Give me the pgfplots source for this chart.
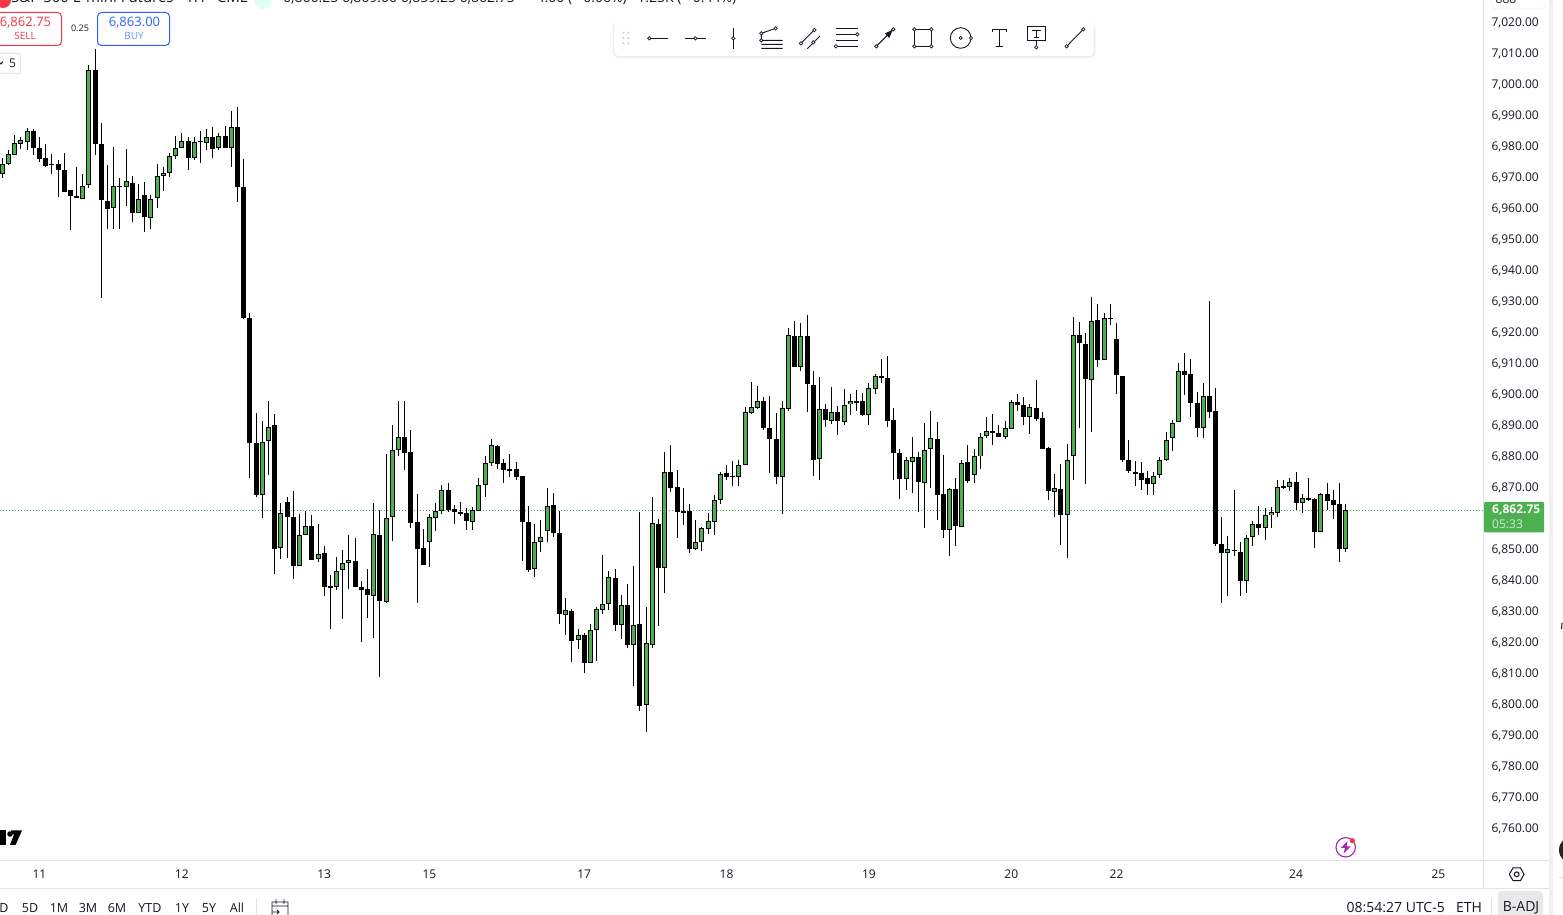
\documentclass[border=0pt]{standalone}
\usepackage{pgfplots}
\usepackage{pgfplotstable}
\usepackage{fontspec}
\setmainfont{Open Sans}
\pgfplotsset{compat=1.18}
\usetikzlibrary{shadows}
\definecolor{tvgreen}{HTML}{4CAF50}
\definecolor{tvtext}{HTML}{131722}
\definecolor{tvline}{HTML}{E0E3EB}
\definecolor{tvred}{HTML}{F23645}
\definecolor{tvblue}{HTML}{2962FF}
\newcommand{\sz}[1]{\fontsize{#1}{#1}\selectfont}
\pgfplotstableread{
i o h l c
0 6971.2 6976.2 6969.9 6974.6
1 6974.5 6978.9 6974.0 6977.8
2 6977.4 6983.7 6977.3 6981.3
3 6980.9 6983.2 6979.2 6982.0
4 6981.7 6986.0 6978.9 6985.2
5 6985.0 6985.5 6977.3 6979.6
6 6979.5 6983.1 6975.1 6976.1
7 6976.2 6980.8 6973.5 6973.8
8 6974.2 6977.6 6971.1 6974.2
9 6974.4 6975.6 6963.8 6972.5
10 6972.4 6977.9 6965.4 6965.4
11 6966.0 6966.0 6953.1 6964.1
12 6964.2 6973.4 6963.5 6963.5
13 6963.3 6971.2 6963.3 6967.5
14 6967.5 7006.3 6966.7 7004.6
15 7004.7 7011.5 6977.4 6980.9
16 6981.0 6987.6 6931.2 6962.9
17 6962.6 6974.0 6953.5 6960.0
18 6960.1 6979.8 6953.5 6967.2
19 6967.2 6969.8 6953.5 6967.2
20 6966.8 6979.2 6960.8 6968.8
21 6968.4 6970.5 6955.6 6958.8
22 6958.7 6968.0 6958.4 6963.0
23 6964.2 6968.5 6952.5 6957.4
24 6957.1 6964.2 6953.5 6963.3
25 6963.5 6974.5 6960.2 6970.7
26 6970.7 6973.4 6965.8 6971.7
27 6971.7 6977.8 6970.3 6977.2
28 6977.2 6983.4 6976.1 6979.7
29 6979.7 6984.4 6979.7 6982.0
30 6982.0 6983.1 6972.5 6976.4
31 6976.4 6983.1 6975.8 6981.7
32 6981.7 6985.0 6974.8 6981.7
33 6981.2 6985.8 6979.0 6983.3
34 6983.3 6986.3 6976.4 6979.3
35 6979.4 6984.2 6979.0 6983.3
36 6983.3 6986.6 6979.6 6979.6
37 6979.7 6991.5 6973.5 6986.5
38 6986.5 6992.7 6962.2 6967.0
39 6966.8 6976.0 6924.4 6924.8
40 6924.9 6926.3 6873.2 6884.6
41 6884.6 6894.0 6867.0 6867.7
42 6867.7 6891.5 6860.3 6884.9
43 6885.2 6897.9 6874.0 6889.7
44 6890.2 6893.7 6842.2 6850.3
45 6850.6 6865.0 6847.0 6861.7
46 6865.5 6866.9 6847.4 6860.6
47 6860.5 6868.9 6840.6 6844.8
48 6844.8 6861.5 6844.8 6854.6
49 6854.6 6862.5 6854.6 6857.5
50 6857.8 6861.1 6846.7 6846.7
51 6847.0 6858.2 6846.0 6848.8
52 6849.1 6851.1 6835.1 6838.0
53 6838.1 6841.8 6824.5 6838.1
54 6838.0 6847.6 6837.0 6843.3
55 6843.5 6849.8 6827.7 6845.9
56 6845.8 6854.7 6837.3 6846.8
57 6846.5 6853.7 6838.0 6838.0
58 6838.1 6839.8 6820.3 6837.0
59 6837.2 6843.7 6828.0 6835.4
60 6835.1 6865.0 6821.6 6854.9
61 6854.6 6862.7 6809.0 6833.5
62 6833.2 6880.8 6832.9 6860.1
63 6860.4 6890.2 6852.9 6882.3
64 6882.2 6897.9 6880.0 6886.2
65 6886.2 6897.9 6875.8 6881.2
66 6881.7 6888.6 6857.0 6858.7
67 6858.8 6867.9 6832.9 6850.0
68 6850.5 6856.6 6845.1 6845.1
69 6852.5 6861.5 6844.5 6860.4
70 6860.3 6865.0 6856.1 6862.6
71 6862.6 6870.8 6861.6 6869.1
72 6869.1 6871.5 6862.2 6862.9
73 6863.0 6864.4 6858.3 6862.0
74 6862.0 6865.3 6860.9 6862.0
75 6861.7 6863.3 6856.4 6859.0
76 6858.8 6863.6 6856.4 6862.6
77 6862.6 6873.0 6862.6 6870.7
78 6871.0 6880.2 6866.9 6878.1
79 6878.1 6885.6 6877.0 6883.6
80 6883.3 6883.7 6876.0 6877.7
81 6878.1 6879.1 6871.6 6875.8
82 6875.9 6880.8 6873.5 6875.9
83 6875.9 6878.2 6872.4 6873.5
84 6873.6 6873.6 6846.3 6859.0
85 6859.1 6864.0 6842.8 6843.5
86 6843.9 6858.2 6841.2 6852.6
87 6852.6 6859.5 6849.2 6854.2
88 6855.9 6869.8 6852.4 6864.2
89 6864.6 6868.2 6854.0 6855.4
90 6855.5 6862.5 6826.0 6829.3
91 6829.0 6834.4 6822.4 6830.4
92 6830.4 6830.7 6813.7 6820.6
93 6820.7 6824.4 6817.9 6822.6
94 6822.6 6823.1 6810.2 6813.5
95 6813.6 6826.0 6813.5 6824.2
96 6824.2 6831.5 6814.0 6830.7
97 6830.7 6848.2 6829.2 6832.6
98 6832.6 6843.1 6830.5 6841.3
99 6841.0 6843.7 6823.7 6825.8
100 6825.9 6835.3 6821.1 6832.3
101 6832.3 6838.9 6818.2 6819.3
102 6819.4 6844.7 6806.0 6825.9
103 6825.9 6862.1 6797.9 6799.6
104 6799.7 6831.5 6791.1 6819.7
105 6819.4 6866.9 6818.3 6858.8
106 6858.4 6859.8 6825.3 6844.1
107 6844.1 6881.5 6836.0 6875.2
108 6875.2 6883.7 6868.7 6869.9
109 6870.1 6875.6 6853.7 6862.3
110 6862.3 6869.8 6857.9 6862.3
111 6862.5 6864.7 6849.0 6850.3
112 6850.3 6859.5 6849.8 6852.6
113 6852.3 6857.2 6849.5 6856.8
114 6856.8 6861.7 6855.0 6859.1
115 6859.0 6867.5 6854.7 6866.2
116 6866.2 6875.0 6864.7 6874.6
117 6874.6 6877.3 6872.4 6873.5
118 6873.9 6878.6 6870.5 6873.5
119 6873.5 6878.9 6870.5 6877.2
120 6877.2 6896.0 6877.2 6894.3
121 6894.1 6904.0 6893.7 6895.9
122 6895.8 6902.7 6895.3 6898.1
123 6898.1 6899.1 6888.6 6889.3
124 6889.4 6899.5 6874.7 6885.8
125 6885.9 6894.0 6871.1 6873.5
126 6873.5 6897.9 6861.6 6895.5
127 6895.4 6921.5 6894.7 6919.4
128 6919.1 6923.7 6909.0 6909.0
129 6909.1 6923.1 6907.6 6919.1
130 6919.1 6925.6 6894.4 6903.5
131 6903.3 6907.6 6873.7 6879.0
132 6879.4 6905.6 6872.4 6895.5
133 6895.5 6896.9 6889.5 6891.9
134 6891.7 6902.4 6890.5 6894.6
135 6894.6 6896.2 6886.9 6891.6
136 6891.3 6901.8 6890.2 6896.8
137 6896.8 6900.2 6893.4 6897.8
138 6897.8 6901.5 6894.7 6897.8
139 6897.8 6900.5 6893.1 6893.5
140 6893.5 6903.7 6890.3 6902.0
141 6902.0 6906.6 6900.2 6906.2
142 6906.2 6911.5 6903.8 6905.4
143 6905.5 6912.4 6889.6 6891.6
144 6891.7 6895.6 6872.4 6881.2
145 6881.3 6882.4 6866.3 6872.9
146 6872.9 6879.8 6869.2 6878.8
147 6878.3 6886.3 6868.2 6879.7
148 6879.7 6881.5 6862.1 6871.9
149 6871.6 6890.8 6856.9 6882.3
150 6882.6 6894.7 6869.8 6885.9
151 6885.9 6891.1 6859.5 6867.7
152 6867.8 6880.5 6853.7 6856.3
153 6856.4 6869.7 6847.9 6869.7
154 6869.7 6873.1 6851.1 6857.6
155 6857.5 6878.9 6857.5 6878.1
156 6878.1 6883.7 6871.5 6872.2
157 6874.1 6882.4 6871.5 6880.1
158 6880.1 6887.6 6876.0 6886.5
159 6886.7 6892.7 6886.0 6888.4
160 6888.4 6893.7 6883.7 6887.7
161 6887.8 6890.2 6886.4 6886.4
162 6886.4 6891.5 6885.6 6889.1
163 6889.0 6898.2 6889.0 6897.5
164 6897.6 6900.2 6894.7 6896.7
165 6896.8 6899.2 6890.2 6892.9
166 6892.9 6896.8 6887.3 6895.9
167 6895.5 6904.7 6891.5 6892.1
168 6892.6 6894.4 6882.5 6882.5
169 6883.0 6883.0 6866.0 6869.0
170 6868.7 6874.4 6860.5 6869.7
171 6869.7 6877.6 6851.5 6861.2
172 6861.3 6884.0 6847.3 6878.8
173 6880.1 6925.0 6872.4 6919.1
174 6919.1 6923.4 6889.3 6916.7
175 6916.5 6919.8 6871.1 6905.1
176 6904.8 6931.5 6887.9 6923.9
177 6924.2 6929.2 6908.9 6911.2
178 6911.2 6926.3 6911.2 6924.6
179 6924.6 6929.2 6922.4 6924.6
180 6917.8 6923.1 6900.2 6906.1
181 6905.9 6905.9 6878.3 6878.9
182 6879.1 6885.3 6874.7 6875.4
183 6875.2 6878.5 6870.5 6874.5
184 6874.6 6878.2 6869.2 6872.5
185 6873.0 6875.3 6867.6 6871.2
186 6871.2 6875.0 6867.6 6873.9
187 6874.1 6879.8 6873.1 6879.1
188 6879.0 6887.9 6878.7 6885.5
189 6885.9 6891.8 6881.8 6891.0
190 6891.2 6910.2 6891.2 6907.5
191 6907.8 6913.4 6899.8 6906.4
192 6906.8 6911.5 6892.7 6897.4
193 6897.2 6900.8 6886.3 6889.3
194 6889.3 6903.7 6886.0 6899.7
195 6899.7 6930.2 6892.4 6894.5
196 6894.6 6902.1 6851.1 6851.8
197 6851.7 6860.5 6832.7 6849.0
198 6849.0 6854.4 6835.0 6850.1
199 6849.7 6869.2 6847.9 6849.7
200 6849.4 6852.4 6835.0 6839.9
201 6839.9 6854.7 6836.0 6853.9
202 6854.1 6859.2 6851.1 6858.1
203 6858.2 6864.0 6854.7 6856.9
204 6857.0 6863.4 6853.1 6861.3
205 6861.3 6863.8 6856.9 6862.0
206 6862.0 6872.4 6860.5 6870.4
207 6870.3 6872.4 6869.5 6870.3
208 6870.3 6873.0 6869.0 6872.0
209 6872.0 6875.0 6862.7 6865.1
210 6865.1 6867.9 6861.9 6866.8
211 6866.4 6873.1 6865.8 6866.4
212 6866.2 6866.5 6850.5 6855.8
213 6855.8 6868.1 6855.8 6868.1
214 6868.1 6871.5 6862.7 6865.8
215 6866.2 6869.2 6859.8 6864.5
216 6864.6 6871.5 6846.0 6850.0
217 6850.3 6864.7 6849.2 6862.75
}\ohlc
\begin{document}
\begin{tikzpicture}[x=1pt,y=1pt]
\clip (0,0) rectangle (1563,915);
\fill[white] (0,0) rectangle (1563,915);
\begin{axis}[
  at={(0pt,55pt)}, anchor=south west, scale only axis,
  width=1483pt, height=860pt,
  xmin=-0.376, xmax=239.2, ymin=6749.84, ymax=7027.26,
  axis line style={draw=none}, major tick length=0pt,
  ytick={6760,6770,...,7020}, yticklabel pos=right,
  xtick={6,29,52,69,94,117,140,163,180,209,232},
  xticklabels={11,12,13,15,17,18,19,20,22,24,25},
  scaled y ticks=false,
  /pgf/number format/.cd, fixed, fixed zerofill, precision=2, 1000 sep={,}, assume math mode=true,
  /pgfplots/.cd,
  yticklabel style={anchor=west, xshift=5pt, yshift=0pt, font=\sz{12}, text=tvtext},
  xticklabel style={anchor=center, yshift=-14pt, font=\sz{12}, text=tvtext},
]
\addplot[forget plot, color=tvgreen, line width=0.8pt, dash pattern=on 1pt off 2pt] coordinates {(-0.376,6862.75)(239.2,6862.75)};
% wicks
\addplot[forget plot, draw=none, no markers, error bars/.cd, y dir=minus, y explicit, error mark=none, error bar style={line width=1pt, draw=black}]
  table[x=i, y=h, y error minus expr={\thisrow{h}-\thisrow{l}}] {\ohlc};
% bodies: outline
\addplot[forget plot, draw=none, no markers, error bars/.cd, y dir=both, y explicit, error mark=none, error bar style={line width=5pt, draw=black}]
  table[x=i, y expr={(\thisrow{o}+\thisrow{c})/2},
        y error plus expr={max(abs(\thisrow{o}-\thisrow{c})/2,0.2)},
        y error minus expr={max(abs(\thisrow{o}-\thisrow{c})/2,0.2)}] {\ohlc};
% bodies: green fill of the rising candles
\addplot[forget plot, draw=none, no markers, error bars/.cd, y dir=both, y explicit, error mark=none, error bar style={line width=3pt, draw=tvgreen}]
  table[x=i, y expr={(\thisrow{o}+\thisrow{c})/2},
        y error plus expr={\thisrow{c}>\thisrow{o} ? max(abs(\thisrow{o}-\thisrow{c})/2-0.32,0) : 0},
        y error minus expr={\thisrow{c}>\thisrow{o} ? max(abs(\thisrow{o}-\thisrow{c})/2-0.32,0) : 0}] {\ohlc};
\end{axis}
% frame lines
\draw[tvline,line width=1pt] (1483.5,27) -- (1483.5,915);
\draw[tvline,line width=1pt] (0,54.5) -- (1549,54.5);
\draw[tvline,line width=1pt] (0,26.5) -- (1549,26.5);
\fill[gray!12] (1549,0) rectangle (1553,915);
% current price label
\fill[tvgreen,rounded corners=1pt] (1484,382.5) rectangle (1544,413);
\node[anchor=west,text=white,font=\bfseries\sz{12},inner sep=0pt] at (1492,405) {6,862.75};
\node[anchor=west,text=white,opacity=.75,font=\sz{12},inner sep=0pt] at (1492,391) {05:33};
% top strip
\fill[tvred] (3,915) circle (8);
\node[anchor=base west,inner sep=0pt,text=tvtext,font=\sz{15}] at (11,912) {S\&P 500 E-mini Futures \textperiodcentered{} 1H \textperiodcentered{} CME};
\fill[green!40!cyan!12] (263,915) circle (9);
\node[anchor=base west,inner sep=0pt,text=tvtext,font=\sz{14}] at (283,912) {6,866.25 6,869.00 6,859.25 6,862.75 \enspace $-$4.00 ($-$0.06\%) \enspace 1.23K ($-$0.44\%)};
\draw[tvline,fill=white,rounded corners=3pt] (1492,920) rectangle (1545,906.5);
\node[inner sep=0pt,text=tvtext,font=\sz{12}] at (1506,916) {888};
% sell / buy
\draw[tvred,line width=1pt,rounded corners=4pt,fill=white] (-6,902.5) rectangle (61.5,869.5);
\node[text=tvred,font=\sz{13},inner sep=0pt] at (25.5,892.5) {6,862.75};
\node[text=tvred,font=\sz{10},inner sep=0pt] at (25,879) {SELL};
\node[text=tvtext,font=\sz{9},inner sep=0pt] at (80,886.5) {0.25};
\draw[tvblue,line width=1pt,rounded corners=4pt,fill=white] (97.5,902.5) rectangle (169.5,869.5);
\node[text=tvblue,font=\sz{13},inner sep=0pt] at (134.5,892.5) {6,863.00};
\node[text=tvblue!70,font=\sz{10},inner sep=0pt] at (134,879) {BUY};
\draw[tvline,line width=1pt,rounded corners=2pt,fill=white] (-6,861.5) rectangle (20.5,841.5);
\node[text=tvtext,font=\sz{12},inner sep=0pt] at (12.5,851.5) {5};
\draw[tvtext,line width=1pt] (-1,853) -- (1,851) -- (3,853.5);
% toolbar
\fill[black!5,rounded corners=7pt] (612.5,894.5) rectangle (1095.5,857);
\fill[black!9,rounded corners=7pt] (613.5,893) rectangle (1094.5,857.5);
\fill[white,rounded corners=6pt] (614,895) rectangle (1094,858.5);
\begin{scope}[shift={(600,905)},x=0.3333pt,y=-0.3333pt,line width=.9pt,draw=tvtext]
 \foreach \a in {70,85} \foreach \b in {68,84,100} \fill[gray!35] (\a,\b) circle (1.2pt);
 \def\pt(#1,#2){\draw[fill=white,line width=.7pt] (#1,#2) circle (1.7pt);}
 \draw (148,85)--(203,85); \pt(148,85)
 \draw (255,85)--(318,85); \pt(286,85)
 \draw (400,55)--(400,116); \pt(400,85)
 \draw (484,70)--(527,55) (484,70)--(484,91) (484,91)--(548,91) (484,103)--(548,103) (484,115)--(548,115);
 \pt(484,70) \pt(527,55) \pt(484,91)
 \draw (603,100)--(643,60) (622,116)--(660,78); \pt(603,100) \pt(643,60) \pt(640,97)
 \draw (708,55)--(773,55) (708,73)--(773,73) (708,91)--(773,91) (708,109)--(773,109); \pt(772,73) \pt(708,109)
 \draw (829,109)--(880,58); \fill[tvtext] (878,60)--(855,70)--(868,84)--cycle; \pt(829,109) \pt(880,58)
 \draw (943,58) rectangle (994,109); \pt(943,58) \pt(994,58) \pt(943,109) \pt(994,109)
 \draw (1082,84) circle (10.3pt); \draw[line width=.7pt] (1082,84) circle (1.6pt); \pt(1113,84)
 \draw (1178,58)--(1220,58) (1199,58)--(1199,108) (1188,108)--(1210,108);
 \draw (1178,58)--(1178,66) (1220,58)--(1220,66);
 \draw (1282,49) rectangle (1337,92) (1296,60)--(1322,60) (1309,60)--(1309,82) (1302,82)--(1316,82) (1309,92)--(1309,106); \pt(1309,112)
 \draw (1400,109)--(1450,58); \pt(1400,109) \pt(1450,58)
\end{scope}
% TradingView logo
\fill[black] (-2,84.5) rectangle (5.5,70);
\fill[black] (10,81) circle (2.8);
\fill[black] (11,84.5) -- (22,84.5) -- (15.5,70) -- (10,70) -- (14,80.5) -- (11,80.5) -- cycle;
% lightning
\draw[color={rgb,255:red,156;green,39;blue,176},line width=1.1pt] (1345.7,67.7) circle (9.7);
\fill[color={rgb,255:red,156;green,39;blue,176}] (1347.5,74) -- (1341,67) -- (1345,67) -- (1343.5,61.5) -- (1350.5,68.5) -- (1346.5,68.5) -- cycle;
\fill[tvred] (1352.3,74.3) circle (2.6);
% settings
\draw[tvtext,line width=1pt] (1509.3,40.7) -- (1513,47) -- (1520.5,47) -- (1524,40.7) -- (1520.5,34.4) -- (1513,34.4) -- cycle;
\draw[tvtext,line width=1pt] (1516.7,40.7) circle (2.4);
% bottom bar
\foreach \t/\x in {D/4,5D/30,1M/59,3M/88,6M/117,YTD/150,1Y/182,5Y/209,All/237}
  \node[text=tvtext,font=\sz{12.5},inner sep=0pt] at (\x,7) {\t};
\draw[tvline,line width=1pt] (256.5,0) -- (256.5,17);
\draw[tvtext,line width=.9pt] (272,0) -- (272,13) -- (288,13) -- (288,0) (272,9) -- (288,9) (276,15.5) -- (276,11) (284,15.5) -- (284,11) (272,3)--(279,3) (277,5)--(279,3)--(277,1);
\node[anchor=east,text=tvtext,font=\sz{14},inner sep=0pt] at (1445,7) {08:54:27 UTC-5};
\node[text=tvtext,font=\sz{14},inner sep=0pt] at (1469,7) {ETH};
\draw[tvline,line width=1pt] (1491.5,0) -- (1491.5,17);
\fill[gray!18,rounded corners=4pt] (1498,-6) rectangle (1543,24);
\node[text=tvtext,font=\sz{14},inner sep=0pt] at (1521,7) {B-ADJ};
% right-hand panel edge
\fill[black!85] (1573,65) circle (14);
\draw[tvline,line width=1pt] (1559,37) -- (1563,37);
\draw[tvtext,line width=1pt] (1562,292) -- (1561.5,286);
\end{tikzpicture}
\end{document}
